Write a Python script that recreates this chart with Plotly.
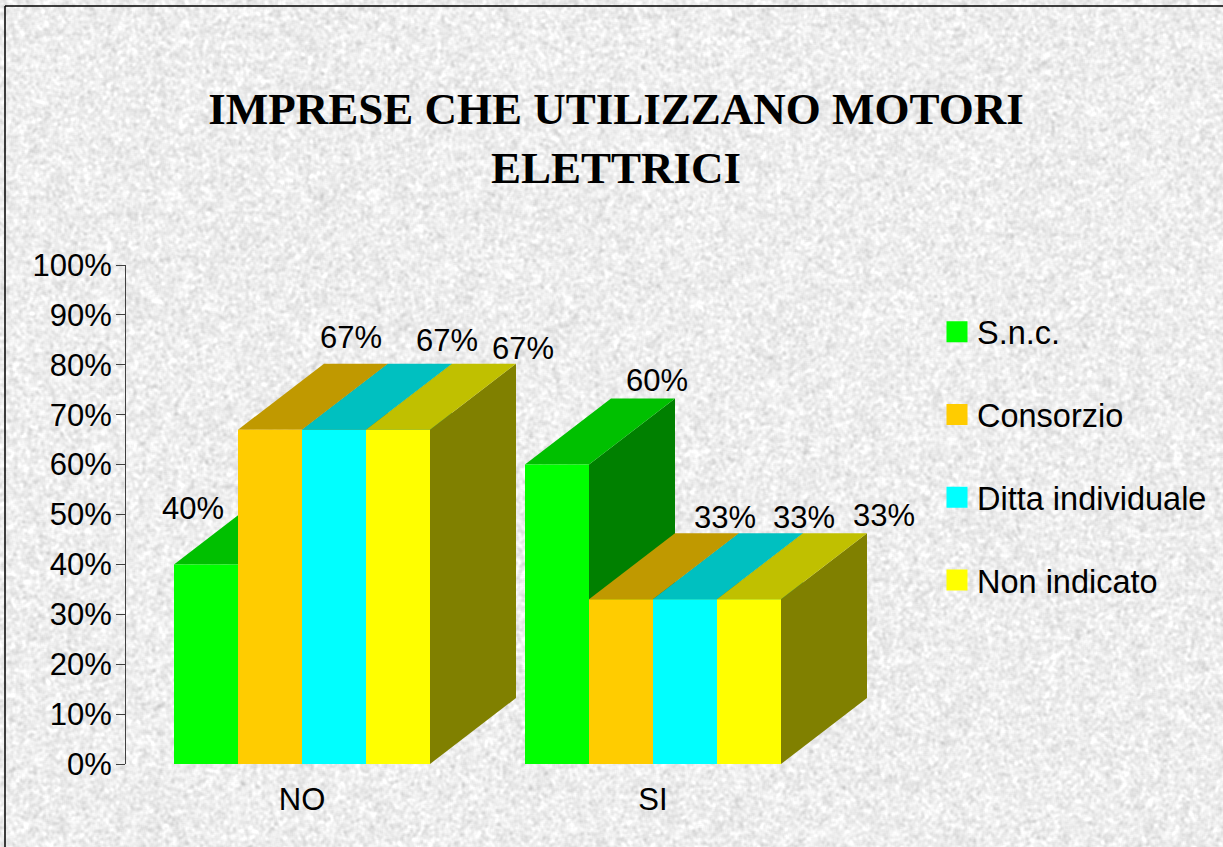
import base64
import struct
import zlib

import numpy as np
import plotly.graph_objects as go

# ---- data ----
categories = ["NO", "SI"]
series_names = ["S.n.c.", "Consorzio", "Ditta individuale", "Non indicato"]
snc = [40, 60]
consorzio = [67, 33]
ditta = [67, 33]
non_indicato = [67, 33]
y_ticks = [0, 10, 20, 30, 40, 50, 60, 70, 80, 90, 100]
y_tick_labels = ["0%", "10%", "20%", "30%", "40%", "50%", "60%", "70%", "80%", "90%", "100%"]
title_text = "IMPRESE CHE UTILIZZANO MOTORI<br>ELETTRICI"

# ---- style ----
front_colors = ["#00FF00", "#FFCC00", "#00FFFF", "#FFFF00"]
top_colors = ["#00C000", "#C09900", "#00C0C0", "#C0C000"]
side_colors = ["#008000", "#806600", "#008080", "#808000"]
W, H = 1223, 847
BG = "#EEEEED"
FONT = "Liberation Sans, Arial, sans-serif"
FS = 31
L, R, T, B = 126, 900, 265, 83          # plot area in page pixels
CAT_PX = 351                            # pixels per category
BAR_PX = 64                             # bar width
CENTER0 = 302                           # pixel centre of first category
DEPTH_X = 86 / CAT_PX                   # 3-D depth in axis units
DEPTH_Y = 66 / ((H - T - B) / 100)
BAR_W = BAR_PX / CAT_PX
xrange = [(L - CENTER0) / CAT_PX, (R - CENTER0) / CAT_PX]
# data-label pixel offsets, series x category (manually placed in the original)
label_dx = [[-13, 100], [81, 104], [113, 119], [125, 135]]
label_dy = [[56, 84], [92, 82], [89, 82], [81, 84]]


def granite_texture():
    """Decorative paper-like speckle for the page background (not chart data)."""
    rng = np.random.default_rng(7)
    n = rng.normal(size=(H, W))
    for _ in range(2):
        n = sum(np.roll(np.roll(n, i, 0), j, 1) for i in (-1, 0, 1) for j in (-1, 0, 1)) / 9
    n /= n.std()
    img = np.clip(238 + 8 * n, 200, 255).astype(np.uint8)
    raw = b"".join(b"\x00" + row.tobytes() for row in img)

    def chunk(tag, data):
        body = tag + data
        return struct.pack(">I", len(data)) + body + struct.pack(">I", zlib.crc32(body))

    png = (b"\x89PNG\r\n\x1a\n"
           + chunk(b"IHDR", struct.pack(">IIBBBBB", W, H, 8, 0, 0, 0, 0))
           + chunk(b"IDAT", zlib.compress(raw, 9))
           + chunk(b"IEND", b""))
    return "data:image/png;base64," + base64.b64encode(png).decode()


all_values = [snc, consorzio, ditta, non_indicato]
fig = go.Figure()


def bar_left(cat, s):
    return cat - 2 * BAR_W + s * BAR_W


# 3-D tops and sides (painted back to front, on the base axes)
for cat_i in range(len(categories)):
    for s, vals in enumerate(all_values):
        v = vals[cat_i]
        x0 = bar_left(cat_i, s)
        x1 = x0 + BAR_W
        fig.add_trace(go.Scatter(
            x=[x1, x1 + DEPTH_X, x1 + DEPTH_X, x1, x1],
            y=[0, DEPTH_Y, v + DEPTH_Y, v, 0],
            mode="lines", fill="toself", fillcolor=side_colors[s],
            line=dict(width=0), hoverinfo="skip", showlegend=False))
        fig.add_trace(go.Scatter(
            x=[x0, x1, x1 + DEPTH_X, x0 + DEPTH_X, x0],
            y=[v, v, v + DEPTH_Y, v + DEPTH_Y, v],
            mode="lines", fill="toself", fillcolor=top_colors[s],
            line=dict(width=0), hoverinfo="skip", showlegend=False))

# front faces (real bars, on an overlaying axis pair so they sit above the depth faces)
for s, vals in enumerate(all_values):
    fig.add_trace(go.Bar(
        x=list(range(len(categories))), y=vals, name=series_names[s],
        marker=dict(color=front_colors[s], line=dict(width=0)),
        xaxis="x2", yaxis="y2", showlegend=False))

# legend swatches
for s, name in enumerate(series_names):
    fig.add_trace(go.Scatter(
        x=[None], y=[None], mode="markers", name=name, legendgroup=name,
        marker=dict(symbol="square", size=16, color=front_colors[s],
                    line=dict(width=5, color=front_colors[s]))))

# data labels
for s, vals in enumerate(all_values):
    for c, v in enumerate(vals):
        fig.add_annotation(
            x=bar_left(c, s) + BAR_W / 2, y=v, text=f"{v}%", showarrow=False,
            xshift=label_dx[s][c], yshift=label_dy[s][c],
            font=dict(family=FONT, size=FS, color="black"))

plot_h = H - T - B
plot_w = R - L
border_x = (5 - L) / plot_w
border_y = 1 + (T - 6) / plot_h

fig.update_layout(
    width=W, height=H, autosize=False,
    paper_bgcolor=BG, plot_bgcolor="rgba(0,0,0,0)",
    margin=dict(l=L, r=W - R, t=T, b=B, pad=0, autoexpand=False),
    barmode="group", bargap=(CAT_PX - 4 * BAR_PX) / CAT_PX, bargroupgap=0,
    title=dict(text="<b>" + title_text.replace("<br>", "</b><br><b>") + "</b>",
               x=616 / W, xanchor="center", xref="container",
               y=1 - 124 / H, yanchor="top", yref="container",
               font=dict(family="Liberation Serif, Times New Roman, serif", size=45, color="black")),
    xaxis=dict(range=xrange, tickmode="array", tickvals=list(range(len(categories))),
               ticktext=categories, showgrid=False, zeroline=False, showline=False,
               ticks="outside", ticklen=8, tickcolor="rgba(0,0,0,0)",
               tickfont=dict(family=FONT, size=FS, color="black")),
    yaxis=dict(range=[0, 100], tickmode="array", tickvals=y_ticks, ticktext=y_tick_labels,
               showgrid=False, zeroline=False, showline=True, linecolor="#404040", linewidth=1,
               ticks="outside", ticklen=9, tickcolor="#404040", tickwidth=1,
               ticklabelstandoff=-2,
               tickfont=dict(family=FONT, size=FS, color="black")),
    xaxis2=dict(overlaying="x", matches="x", visible=False),
    yaxis2=dict(overlaying="y", matches="y", visible=False),
    showlegend=True,
    legend=dict(xref="container", yref="container", x=937 / W, y=1 - 304 / H,
                xanchor="left", yanchor="top", bgcolor="rgba(0,0,0,0)", borderwidth=0,
                tracegroupgap=37.5, traceorder="grouped",
                font=dict(family=FONT, size=32.5, color="black")),
    images=[dict(source=granite_texture(), xref="paper", yref="paper",
                 x=-L / plot_w, y=1 + T / plot_h, sizex=W / plot_w, sizey=H / plot_h,
                 xanchor="left", yanchor="top", sizing="stretch", layer="below")],
    shapes=[
        dict(type="line", xref="paper", yref="paper",
             x0=border_x, x1=border_x, y0=-B / plot_h, y1=border_y,
             line=dict(color="black", width=1.5)),
        dict(type="line", xref="paper", yref="paper",
             x0=border_x, x1=(W - L) / plot_w, y0=border_y, y1=border_y,
             line=dict(color="black", width=1.5)),
    ],
)

fig.write_html(
    "out.html",
    config={"displayModeBar": False},
    post_script=f"document.body.style.margin='0';document.body.style.background='{BG}';"
                "document.documentElement.style.overflow='hidden';")
